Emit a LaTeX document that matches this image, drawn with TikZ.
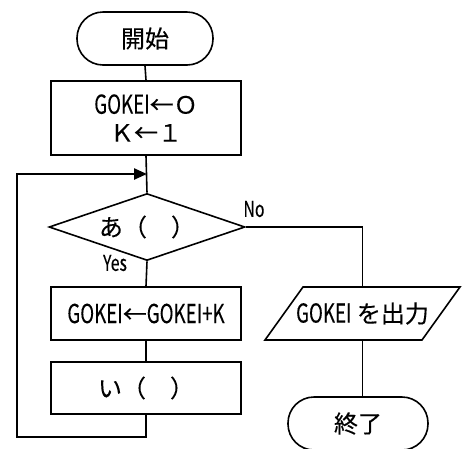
\documentclass[tikz,border=0pt]{standalone}
\usepackage{fontspec}
\setmainfont[FakeBold=0.2]{Noto Sans CJK JP}
\newfontfamily\latn[FakeStretch=0.72,FakeBold=0.2]{Noto Sans CJK JP}
\newcommand{\lt}[1]{{\latn\fontsize{26}{28}\selectfont #1}}
\usetikzlibrary{shapes.geometric,arrows.meta}
\begin{document}
\begin{tikzpicture}[x=1pt,y=-1pt,
  every node/.style={font=\fontsize{24}{28}\selectfont, inner sep=0pt},
  ln/.style={line width=1.6pt},
  loopln/.style={line width=2.4pt},
  term/.style={ln, draw, rectangle, rounded corners=26pt, minimum height=53pt},
  proc/.style={ln, draw, rectangle, minimum width=190pt, align=center},
  dec/.style={ln, draw, diamond, aspect=2.9, minimum width=196pt, minimum height=67pt},
  lbl/.style={font=\latn\fontsize{22}{24}\selectfont}
]
\useasboundingbox (0,0) rectangle (466,448);
\node[term, minimum width=136pt] (start) at (145,38.5) {開始};
\node[proc, minimum height=74pt] (init) at (146,118) {\lt{GOKEI}←Ｏ\\Ｋ←１};
\node[dec] (dia) at (147,227) {あ（　）};
\node[proc, minimum height=53pt] (add) at (146,313.5) {\lt{GOKEI}←\lt{GOKEI+K}};
\node[proc, minimum height=52pt] (inc) at (146,388) {い（　）};
\node[minimum width=120pt, minimum height=53pt] (out) at (362.5,313.5) {\lt{GOKEI} を出力};
\draw[ln] (303,287) -- (460,287) -- (422,340) -- (265,340) -- cycle;
\node[term, minimum width=140pt] (end) at (358,423.5) {終了};
\node[lbl] (no) at (254,209) {No};
\node[lbl] (yes) at (115,263) {Yes};
\coordinate (merge) at (147,174);
\coordinate (lb) at (17,437);
\draw[ln] (start.south) -- (init.north);
\draw[ln] (init.south) -- (dia.north);
\draw[ln] (dia.south) -- (add.north);
\draw[ln] (add.south) -- (inc.north);
\draw[loopln, -{Triangle[length=13pt,width=11pt]}] (inc.south) |- (lb) |- (merge);
\draw[ln] (dia.east) -| (out.north);
\draw[ln] (out.south) -- (out.south |- end.north);
\end{tikzpicture}
\end{document}
